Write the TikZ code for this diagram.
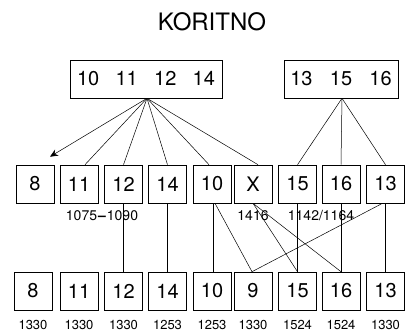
\documentclass[tikz,border=0pt]{standalone}
\usepackage{fontspec}
\setmainfont{TeX Gyre Heros}
\usetikzlibrary{arrows.meta}
\begin{document}
\begin{tikzpicture}[x=1pt,y=-1pt,
  box/.style={draw,line width=0.6pt,rectangle,inner sep=0pt,minimum width=38pt,minimum height=38pt,font=\fontsize{20}{24}\selectfont},
  wide/.style={draw,line width=0.6pt,rectangle,inner sep=0pt,minimum height=38pt,font=\fontsize{20}{24}\selectfont},
  lbl/.style={inner sep=0pt,font=\fontsize{13}{15}\selectfont},
  mlbl/.style={inner sep=0pt,font=\fontsize{14}{16}\selectfont},
  conn/.style={line width=0.5pt}]
\useasboundingbox (0,0) rectangle (405,331);
\node[inner sep=0pt,font=\fontsize{24}{28}\selectfont] (title) at (212,22) {KORITNO};
\node[wide,minimum width=152pt] (tL) at (146,79) {10\hspace{16.3pt}11\hspace{16.3pt}12\hspace{16.3pt}14};
\node[wide,minimum width=114pt] (tR) at (341,79) {13\hspace{17.3pt}15\hspace{17.3pt}16};
% middle row
\node[box] (m8) at (35,184) {8};
\node[box] (m11) at (79,184) {11};
\node[box] (m12) at (123.5,184) {12};
\node[box] (m14) at (167.5,184) {14};
\node[box] (m10) at (212,184) {10};
\node[box] (mX) at (253,184) {X};
\node[box] (m15) at (297.5,184) {15};
\node[box] (m16) at (341,184) {16};
\node[box] (m13) at (385.5,184) {13};
% bottom row
\node[box] (b8) at (33,291) {8};
\node[box] (b11) at (79,291) {11};
\node[box] (b12) at (123.5,291) {12};
\node[box] (b14) at (167.5,291) {14};
\node[box] (b10) at (212,291) {10};
\node[box] (b9) at (253,291) {9};
\node[box] (b15) at (297.5,291) {15};
\node[box] (b16) at (341,291) {16};
\node[box] (b13) at (385.5,291) {13};
% labels
\node[mlbl] (l1) at (102,216) {1075\kern1pt\textbf{--}\kern1pt1090};
\node[mlbl] (l2) at (253,216) {1416};
\node[mlbl] (l3) at (321,216) {1142/1164};
\foreach \n/\t in {8/1330,11/1330,12/1330,14/1253,10/1253,9/1330,15/1524,16/1524,13/1330}
  \node[lbl] (v\n) at ([yshift=-33.5pt]b\n.center) {\t};
% top fans
\coordinate (a8) at ([xshift=15pt,yshift=8pt]m8.north);
\draw[conn,-{Stealth[length=8pt,width=7pt]}] ([xshift=1pt]tL.south) -- (a8);
\draw[conn] ([xshift=1pt]tL.south) -- ([xshift=6pt]m11.north);
\draw[conn] ([xshift=1pt]tL.south) -- (m12.north);
\draw[conn] ([xshift=1pt]tL.south) -- (m14.north);
\draw[conn] ([xshift=1pt]tL.south) -- ([xshift=-3pt]m10.north);
\draw[conn] ([xshift=1pt]tL.south) -- ([xshift=5pt]mX.north);
\draw[conn] ([xshift=1pt]tR.south) -- (m15.north);
\draw[conn] ([xshift=1pt]tR.south) -- (m16.north);
\draw[conn] ([xshift=1pt]tR.south) -- (m13.north);
% lower connectors
\draw[conn] (m12.south) -- (b12.north);
\draw[conn] (m14.south) -- (b14.north);
\draw[conn] ([xshift=1pt]m10.south) -- ([xshift=1pt]b10.north);
\draw[conn] ([xshift=3pt]m10.south) -- ([xshift=-1pt]b9.north);
\draw[conn] (mX.south) -- (b15.north);
\draw[conn] (mX.south) -- (b16.north);
\draw[conn] (m15.south) -- (b15.north);
\draw[conn] (m16.south) -- (b16.north);
\draw[conn] (m13.south) -- (b13.north);
\draw[conn] ([xshift=-3pt]m13.south) -- ([xshift=-1pt]b9.north);
\end{tikzpicture}
\end{document}
